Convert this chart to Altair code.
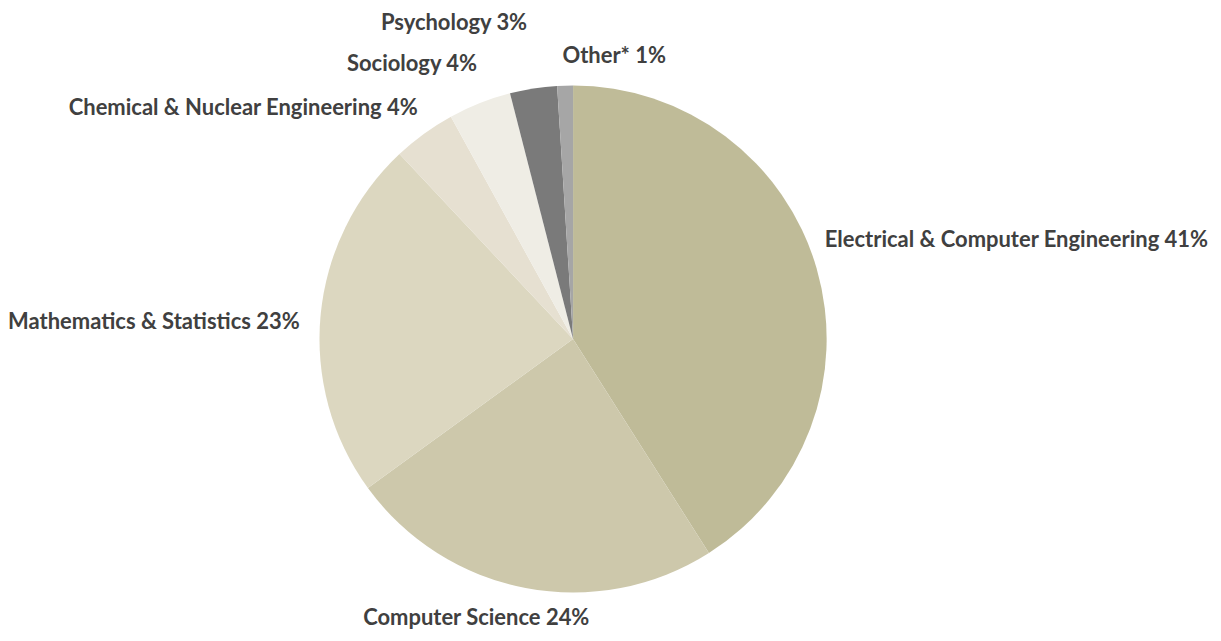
import altair as alt
import pandas as pd
import math

categories = [
    "Electrical & Computer Engineering",
    "Computer Science",
    "Mathematics & Statistics",
    "Chemical & Nuclear Engineering",
    "Sociology",
    "Psychology",
    "Other*",
]
shares = [41, 24, 23, 4, 4, 3, 1]
colors = ["#BFBB98", "#CDC8AB", "#DCD7C0", "#E6E0D1", "#EFEDE5", "#7A7A7A", "#A6A6A6"]

df = pd.DataFrame({
    "category": categories,
    "share": shares,
    "order": list(range(len(categories))),
})
df["label"] = [f"{c} {s}%" for c, s in zip(categories, shares)]

R = 254
color_scale = alt.Scale(domain=categories, range=colors)

pie = alt.Chart(df).mark_arc(outerRadius=R, stroke=None).encode(
    theta=alt.Theta("share:Q", stack=True),
    order=alt.Order("order:Q"),
    color=alt.Color("category:N", scale=color_scale, legend=None),
)

label_base = alt.Chart(df).transform_window(
    cum="sum(share)", sort=[alt.SortField("order")]
).transform_joinaggregate(
    total="sum(share)"
).transform_calculate(
    frac="(datum.cum - datum.share / 2) / datum.total"
)

# label layout (align, dx, dy, radius) per category
label_style = {
    "Electrical & Computer Engineering": ("left", -12, -22, 275),
    "Computer Science": ("center", -43, -3, 288),
    "Mathematics & Statistics": ("right", 0, 9, 275),
    "Chemical & Nuclear Engineering": ("right", 6, -9, 275),
    "Sociology": ("right", 5, -20, 275),
    "Psychology": ("right", -3, -45, 275),
    "Other*": ("left", -2, -9, 275),
}

layers = [pie]
for cat, (align, dx, dy, rad) in label_style.items():
    layers.append(
        label_base.transform_filter(alt.datum.category == cat).mark_text(
            radius=rad, align=align, baseline="middle", dx=dx, dy=dy,
            font="Lato", fontWeight="bold", fontSize=22, color="#404040",
        ).encode(
            theta=alt.Theta("frac:Q", scale=alt.Scale(domain=[0, 1], range=[0, 2 * math.pi])),
            text="label:N",
        )
    )

chart = alt.layer(*layers).resolve_scale(theta="independent").properties(
    width=1132,
    height=540,
    autosize=alt.AutoSizeParams(type="none"),
    padding={"left": 0, "top": 61, "right": 75, "bottom": 24},
).configure_view(stroke=None).configure(background="white")

chart.save("out.html", embed_options={"renderer": "svg", "actions": False})
